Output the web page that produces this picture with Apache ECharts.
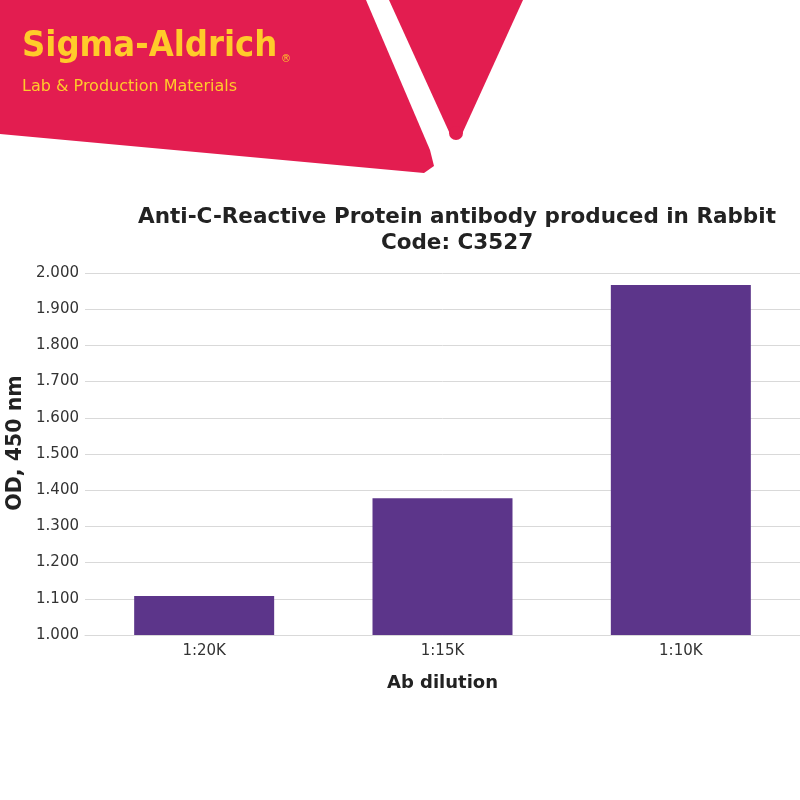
<!DOCTYPE html>
<html>
<head>
<meta charset="utf-8">
<script src="https://cdn.jsdelivr.net/npm/echarts@6/dist/echarts.min.js"></script>
<style>html,body{margin:0;padding:0;background:#fff}#c{width:800px;height:800px}</style>
</head>
<body>
<div id="c"></div>
<script>
var categories = ['1:20K', '1:15K', '1:10K'];
var odValues = [1.108, 1.378, 1.967];
var yTicks = { min: 1.0, max: 2.0, interval: 0.1 };

var chart = echarts.init(document.getElementById('c'), null, { renderer: 'canvas' });
var crimson = '#E31D50';
var yellow = '#FFCB2A';
chart.setOption({
  backgroundColor: '#ffffff',
  animation: false,
  title: {
    text: 'Anti-C-Reactive Protein antibody produced in Rabbit\nCode: C3527',
    left: 452,
    top: 199,
    textAlign: 'center',
    textStyle: { fontFamily: 'DejaVu Sans', fontWeight: 'bold', fontSize: 21.5, lineHeight: 26, color: '#222222' }
  },
  graphic: [
    { type: 'polygon', shape: { points: [[0,0],[366,0],[430,150],[434,166],[424,173],[0,134]] }, style: { fill: crimson } },
    { type: 'polygon', shape: { points: [[389,0],[523,0],[462,134],[450,134]] }, style: { fill: crimson } },
    { type: 'circle', shape: { cx: 456, cy: 133, r: 7 }, style: { fill: crimson } },
    { type: 'text', left: 22, top: 29, style: { text: 'Sigma-Aldrich', font: 'bold 36px "DejaVu Sans Condensed", "DejaVu Sans"', fill: yellow } },
    { type: 'text', left: 281, top: 54, style: { text: '®', font: '10px "DejaVu Sans"', fill: yellow } },
    { type: 'text', left: 22, top: 79, style: { text: 'Lab & Production Materials', font: '16px "DejaVu Sans"', fill: yellow } }
  ],
  grid: { left: 85, right: 0, top: 273, bottom: 165, containLabel: false, outerBoundsMode: 'none' },
  xAxis: {
    type: 'category',
    data: categories,
    name: 'Ab dilution',
    nameLocation: 'middle',
    nameGap: 39,
    nameMoveOverlap: false,
    nameTextStyle: { fontFamily: 'DejaVu Sans', fontWeight: 'bold', fontSize: 18, color: '#222' },
    axisLine: { lineStyle: { color: '#d9d9d9', width: 1 } },
    axisTick: { show: false },
    axisLabel: { fontFamily: 'DejaVu Sans', fontSize: 15, color: '#333', margin: 9 }
  },
  yAxis: {
    type: 'value',
    min: yTicks.min,
    max: yTicks.max,
    interval: yTicks.interval,
    name: 'OD, 450 nm',
    nameLocation: 'middle',
    nameGap: 59,
    nameMoveOverlap: false,
    nameTextStyle: { fontFamily: 'DejaVu Sans', fontWeight: 'bold', fontSize: 20.5, color: '#222', padding: [0, 0, 0, 22] },
    axisLine: { show: false },
    axisTick: { show: false },
    splitLine: { lineStyle: { color: '#d9d9d9', width: 1 } },
    axisLabel: { fontFamily: 'DejaVu Sans', fontSize: 15, color: '#333', margin: 6,
      formatter: function (v) { return v.toFixed(3); } }
  },
  series: [{
    type: 'bar',
    data: odValues,
    barWidth: 140,
    itemStyle: { color: '#5C358A' }
  }]
});
</script>
</body>
</html>
